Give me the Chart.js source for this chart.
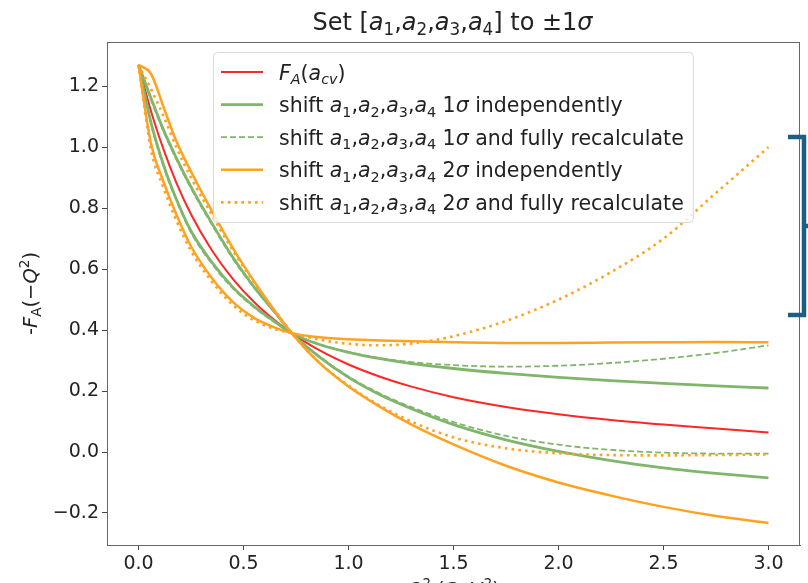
<!DOCTYPE html>
<html>
<head>
<meta charset="utf-8">
<script src="https://cdn.jsdelivr.net/npm/chart.js@4"></script>
<style>
  html, body { margin: 0; padding: 0; background: #fff; }
  #wrap { position: relative; width: 808px; height: 583px; }
</style>
</head>
<body>
<div id="wrap"><canvas id="myChart" width="808" height="583"></canvas></div>
<script>
// Q^2 sample points (GeV^2)
const q2 = [0, 0.06, 0.12, 0.18, 0.25, 0.35, 0.45, 0.55, 0.65, 0.73, 0.85, 1.0, 1.15, 1.3, 1.5, 1.75, 2.0, 2.25, 2.5, 2.75, 3.0];

// -F_A(-Q^2), central values
const faCentral = [1.27, 1.117, 0.991, 0.884, 0.78, 0.661, 0.567, 0.492, 0.431, 0.39, 0.338, 0.287, 0.247, 0.2145, 0.18, 0.148, 0.124, 0.105, 0.09, 0.077, 0.064];
// 1 sigma shifts, independently
const shift1Lo = [1.27, 1.16, 1.055, 0.965, 0.87, 0.75, 0.638, 0.542, 0.458, 0.39, 0.318, 0.245, 0.188, 0.142, 0.09, 0.04, 0.002, -0.028, -0.052, -0.07, -0.085];
const shift1Hi = [1.27, 1.08, 0.94, 0.83, 0.725, 0.622, 0.54, 0.478, 0.427, 0.39, 0.355, 0.327, 0.306, 0.29, 0.274, 0.258, 0.245, 0.234, 0.225, 0.217, 0.21];
// 1 sigma shifts, fully recalculated
const refit1Lo = [1.27, 1.155, 1.05, 0.96, 0.865, 0.745, 0.633, 0.539, 0.456, 0.39, 0.32, 0.248, 0.192, 0.147, 0.098, 0.053, 0.024, 0.007, -0.002, -0.005, -0.005];
const refit1Hi = [1.27, 1.075, 0.935, 0.825, 0.72, 0.617, 0.536, 0.475, 0.425, 0.39, 0.357, 0.328, 0.308, 0.295, 0.285, 0.28, 0.283, 0.292, 0.306, 0.325, 0.35];
// 2 sigma shifts, independently
const shift2Lo = [1.27, 1.24, 1.13, 1.02, 0.92, 0.79, 0.668, 0.56, 0.462, 0.39, 0.3, 0.215, 0.148, 0.09, 0.025, -0.045, -0.1, -0.143, -0.18, -0.21, -0.233];
const shift2Hi = [1.27, 1.01, 0.885, 0.78, 0.675, 0.57, 0.492, 0.44, 0.408, 0.39, 0.377, 0.37, 0.366, 0.363, 0.36, 0.358, 0.358, 0.359, 0.36, 0.361, 0.36];
// 2 sigma shifts, fully recalculated
const refit2Lo = [1.27, 1.19, 1.1, 1.0, 0.9, 0.777, 0.66, 0.557, 0.463, 0.39, 0.3, 0.218, 0.152, 0.1, 0.048, 0.012, -0.004, -0.01, -0.011, -0.01, -0.008];
const refit2Hi = [1.27, 0.99, 0.865, 0.76, 0.66, 0.558, 0.482, 0.432, 0.403, 0.39, 0.37, 0.355, 0.35, 0.356, 0.38, 0.43, 0.5, 0.59, 0.7, 0.85, 1.0];

const xTicks = [0, 0.5, 1.0, 1.5, 2.0, 2.5, 3.0];
const yTicks = [-0.2, 0, 0.2, 0.4, 0.6, 0.8, 1.0, 1.2];

const FONT = '"DejaVu Sans", sans-serif';
const RED = '#ff2626';
const GREEN = '#80b56c';
const ORANGE = '#ffa220';

const styles = {
  central: { color: RED, width: 2, dash: [] },
  shift1: { color: GREEN, width: 2.8, dash: [] },
  refit1: { color: GREEN, width: 1.8, dash: [6, 3] },
  shift2: { color: ORANGE, width: 2.5, dash: [] },
  refit2: { color: ORANGE, width: 2.6, dash: [2.6, 4.2] }
};

// pieces of math-like text: it = italic, sub / sup = small and shifted
const aList = [
  { t: 'a', it: 1 }, { t: '1', sub: 1 }, { t: ',' },
  { t: 'a', it: 1 }, { t: '2', sub: 1 }, { t: ',' },
  { t: 'a', it: 1 }, { t: '3', sub: 1 }, { t: ',' },
  { t: 'a', it: 1 }, { t: '4', sub: 1 }
];
const titleText = [{ t: 'Set [' }].concat(aList, [{ t: '] to \u00b11' }, { t: '\u03c3', it: 1 }]);
const yTitle = [{ t: '-' }, { t: 'F', it: 1 }, { t: 'A', sub: 1 }, { t: '(\u2212' }, { t: 'Q', it: 1 }, { t: '2', sup: 1 }, { t: ')' }];
const xTitle = [{ t: 'Q', it: 1 }, { t: '2', sup: 1 }, { t: ' (GeV' }, { t: '2', sup: 1 }, { t: ')' }];
const legendItems = [
  { style: 'central', text: [{ t: 'F', it: 1 }, { t: 'A', it: 1, sub: 1 }, { t: '(' }, { t: 'a', it: 1 }, { t: 'cv', it: 1, sub: 1 }, { t: ')' }] },
  { style: 'shift1', text: [{ t: 'shift ' }].concat(aList, [{ t: ' 1' }, { t: '\u03c3', it: 1 }, { t: ' independently' }]) },
  { style: 'refit1', text: [{ t: 'shift ' }].concat(aList, [{ t: ' 1' }, { t: '\u03c3', it: 1 }, { t: ' and fully recalculate' }]) },
  { style: 'shift2', text: [{ t: 'shift ' }].concat(aList, [{ t: ' 2' }, { t: '\u03c3', it: 1 }, { t: ' independently' }]) },
  { style: 'refit2', text: [{ t: 'shift ' }].concat(aList, [{ t: ' 2' }, { t: '\u03c3', it: 1 }, { t: ' and fully recalculate' }]) }
];

function partFont(p, size) {
  const s = (p.sub || p.sup) ? size * 0.7 : size;
  return (p.it ? 'italic ' : '') + s + 'px ' + FONT;
}
function richWidth(ctx, parts, size) {
  let w = 0;
  parts.forEach(p => { ctx.font = partFont(p, size); w += ctx.measureText(p.t).width; });
  return w;
}
// y is the baseline
function drawRich(ctx, parts, x, y, size, align) {
  const w = richWidth(ctx, parts, size);
  let cx = align === 'center' ? x - w / 2 : (align === 'right' ? x - w : x);
  ctx.textAlign = 'left';
  ctx.textBaseline = 'alphabetic';
  parts.forEach(p => {
    ctx.font = partFont(p, size);
    const dy = p.sub ? size * 0.22 : (p.sup ? -size * 0.4 : 0);
    ctx.fillText(p.t, cx, y + dy);
    cx += ctx.measureText(p.t).width;
  });
}

const series = [
  ['central', faCentral],
  ['shift1', shift1Hi], ['shift1', shift1Lo],
  ['refit1', refit1Hi], ['refit1', refit1Lo],
  ['shift2', shift2Hi], ['shift2', shift2Lo],
  ['refit2', refit2Hi], ['refit2', refit2Lo]
];

const datasets = series.map(([key, vals], i) => {
  const st = styles[key];
  return {
    data: q2.map((x, j) => ({ x: x, y: vals[j] })),
    borderColor: st.color,
    borderWidth: st.width,
    borderDash: st.dash,
    borderJoinStyle: 'round',
    pointRadius: 0,
    fill: false,
    cubicInterpolationMode: 'monotone',
    order: series.length - i
  };
});

const decorations = {
  id: 'decorations',
  beforeDatasetsDraw(chart) {
    const { ctx, chartArea: a } = chart;
    ctx.save();
    ctx.strokeStyle = '#666';
    ctx.lineWidth = 1;
    ctx.strokeRect(a.left + 0.5, a.top + 0.5, a.right - a.left - 1, a.bottom - a.top);
    ctx.restore();
  },
  afterDatasetsDraw(chart) {
    const { ctx, chartArea: a } = chart;
    ctx.save();
    // legend box
    const size = 20.5;
    const left = a.left + 106, top = a.top + 10;
    let tw = 0;
    legendItems.forEach(it => { tw = Math.max(tw, richWidth(ctx, it.text, size)); });
    const w = 66 + tw + 9, rowH = 32.6, h = rowH * legendItems.length + 7;
    ctx.beginPath();
    ctx.roundRect(left + 0.5, top + 0.5, w, h, 4);
    ctx.fillStyle = 'rgba(255,255,255,0.8)';
    ctx.fill();
    ctx.strokeStyle = '#d9d9d9';
    ctx.lineWidth = 1;
    ctx.stroke();
    legendItems.forEach((it, i) => {
      const cy = top + 20 + i * rowH;
      const st = styles[it.style];
      ctx.beginPath();
      ctx.strokeStyle = st.color;
      ctx.lineWidth = st.width;
      ctx.setLineDash(st.dash);
      ctx.moveTo(left + 8, cy);
      ctx.lineTo(left + 50, cy);
      ctx.stroke();
      ctx.setLineDash([]);
      ctx.fillStyle = '#222';
      drawRich(ctx, it.text, left + 66, cy + 7.5, size, 'left');
    });
    ctx.restore();
  },
  afterDraw(chart) {
    const { ctx, chartArea: a } = chart;
    ctx.save();
    ctx.fillStyle = '#222';
    // title
    drawRich(ctx, titleText, (a.left + a.right) / 2 - 1, 30, 24, 'center');
    // x title, mostly cut off by the bottom edge
    drawRich(ctx, xTitle, (a.left + a.right) / 2, 596, 19, 'center');
    // y title
    ctx.translate(37, (a.top + a.bottom) / 2);
    ctx.rotate(-Math.PI / 2);
    drawRich(ctx, yTitle, 0, 0, 19.5, 'center');
    ctx.restore();
    // bracket on the right
    ctx.save();
    ctx.strokeStyle = '#1c5f84';
    ctx.lineWidth = 4.5;
    ctx.lineJoin = 'miter';
    ctx.beginPath();
    ctx.moveTo(a.right - 12, 137);
    ctx.lineTo(a.right + 4, 137);
    ctx.lineTo(a.right + 4, 315);
    ctx.lineTo(a.right - 12, 315);
    ctx.moveTo(a.right + 4, 226);
    ctx.lineTo(a.right + 9, 226);
    ctx.stroke();
    ctx.restore();
  }
};

const fmt = v => Number(v).toFixed(1).replace('-', '\u2212');

new Chart(document.getElementById('myChart'), {
  type: 'line',
  data: { datasets: datasets },
  options: {
    responsive: false,
    devicePixelRatio: 1,
    animation: false,
    layout: { padding: { top: 42, right: 8, left: 0, bottom: 0 } },
    plugins: { legend: { display: false }, title: { display: false }, tooltip: { enabled: false } },
    scales: {
      x: {
        type: 'linear',
        min: -0.15,
        max: 3.15,
        afterBuildTicks: s => { s.ticks = xTicks.map(v => ({ value: v })); },
        afterFit: s => { s.height = 38; },
        grid: { display: true, drawOnChartArea: false, drawTicks: true, tickLength: 5, color: '#444' },
        border: { display: true, color: '#666' },
        ticks: { callback: fmt, color: '#222', padding: 3, maxRotation: 0, autoSkip: false, font: { family: FONT, size: 19 } }
      },
      y: {
        type: 'linear',
        min: -0.305,
        max: 1.345,
        afterBuildTicks: s => { s.ticks = yTicks.map(v => ({ value: v })); },
        afterFit: s => { s.width = 107; },
        grid: { display: true, drawOnChartArea: false, drawTicks: true, tickLength: 5, color: '#444' },
        border: { display: true, color: '#666' },
        ticks: { callback: fmt, color: '#222', padding: 3, autoSkip: false, font: { family: FONT, size: 19 } }
      }
    }
  },
  plugins: [decorations]
});
</script>
</body>
</html>
